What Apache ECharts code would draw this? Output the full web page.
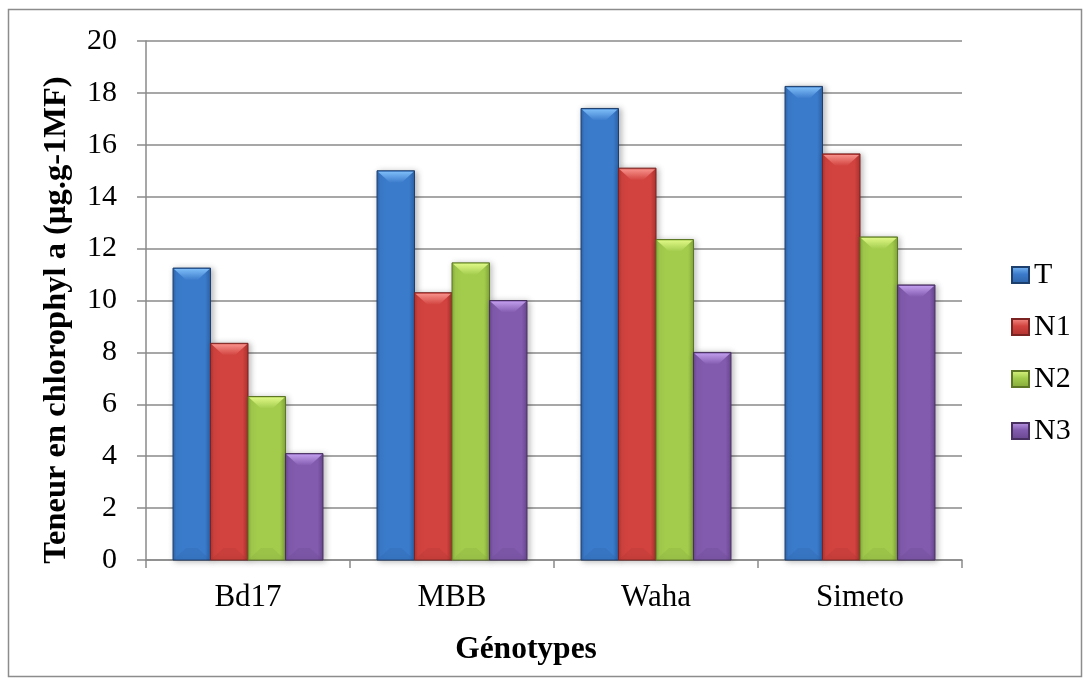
<!DOCTYPE html>
<html>
<head>
<meta charset="utf-8">
<script src="https://cdn.jsdelivr.net/npm/echarts@6/dist/echarts.min.js"></script>
<style>
  html, body { margin: 0; padding: 0; background: #ffffff; }
  #chart { width: 1091px; height: 686px; }
</style>
</head>
<body>
<div id="chart"></div>
<script>
// Chlorophyll a content per genotype and treatment
const categories = ['Bd17', 'MBB', 'Waha', 'Simeto'];
const seriesNames = ['T', 'N1', 'N2', 'N3'];
const valuesT  = [11.25, 15.0, 17.4, 18.25];
const valuesN1 = [8.35, 10.3, 15.1, 15.65];
const valuesN2 = [6.3, 11.45, 12.35, 12.45];
const valuesN3 = [4.1, 10.0, 8.0, 10.6];
const yTicks = [0, 2, 4, 6, 8, 10, 12, 14, 16, 18, 20];

const seriesValues = [valuesT, valuesN1, valuesN2, valuesN3];

// bevelled bar colours: light (top facet), mid (body), dark (edge)
const palette = [
  { light: '#7dbcf7', mid: '#3b7bcb', shade: '#2c62a6', edge: '#1d3f6e' },
  { light: '#f7908a', mid: '#d2433f', shade: '#ad322f', edge: '#7a2321' },
  { light: '#def785', mid: '#a3cc4d', shade: '#84a83a', edge: '#5c7626' },
  { light: '#c09cec', mid: '#825bae', shade: '#68468e', edge: '#47305f' }
];

const FONT = "'Liberation Serif', 'Times New Roman', serif";
const GROUP_RATIO = 0.735;

function hGrad(p) {
  return new echarts.graphic.LinearGradient(0, 0, 1, 0, [
    { offset: 0, color: p.shade },
    { offset: 0.1, color: p.mid },
    { offset: 0.85, color: p.mid },
    { offset: 1, color: p.shade }
  ]);
}

function makeRender(si) {
  const p = palette[si];
  return function (params, api) {
    const c = api.value(0);
    const v = api.value(1);
    const base = api.coord([c, 0]);
    const top = api.coord([c, v]);
    const band = api.size([1, 0])[0];
    const bw = band * GROUP_RATIO / 4;
    const x = base[0] - 2 * bw + si * bw;
    const yTop = top[1];
    const yBot = base[1];
    const h = yBot - yTop;
    const d = Math.min(12, h / 2);
    const ins = Math.min(13, bw / 2.6);
    return {
      type: 'group',
      children: [
        {
          type: 'rect',
          shape: { x: x, y: yTop, width: bw, height: h },
          style: {
            fill: hGrad(p),
            stroke: p.edge,
            lineWidth: 1,
            shadowBlur: 6,
            shadowOffsetX: 2,
            shadowOffsetY: 1,
            shadowColor: 'rgba(0,0,0,0.28)'
          }
        },
        {
          type: 'polygon',
          shape: { points: [[x + 1, yTop + 1], [x + bw - 1, yTop + 1], [x + bw - ins, yTop + d], [x + ins, yTop + d]] },
          style: {
            fill: new echarts.graphic.LinearGradient(0, 0, 0, 1, [
              { offset: 0, color: p.light },
              { offset: 1, color: p.mid }
            ])
          }
        },
        {
          type: 'polygon',
          shape: { points: [[x + 1, yBot - 1], [x + bw - 1, yBot - 1], [x + bw - ins, yBot - d], [x + ins, yBot - d]] },
          style: { fill: p.shade, opacity: 0.25 }
        }
      ]
    };
  };
}

const chart = echarts.init(document.getElementById('chart'), null, { renderer: 'canvas' });

const series = seriesNames.map(function (name, si) {
  const p = palette[si];
  return {
    name: name,
    type: 'custom',
    renderItem: makeRender(si),
    encode: { x: 0, y: 1 },
    itemStyle: {
      color: new echarts.graphic.LinearGradient(0, 0, 0, 1, [
        { offset: 0, color: p.light },
        { offset: 0.45, color: p.mid },
        { offset: 1, color: p.shade }
      ]),
      borderColor: p.edge,
      borderWidth: 1
    },
    data: seriesValues[si].map(function (v, i) { return [i, v]; })
  };
});

chart.setOption({
  backgroundColor: '#ffffff',
  animation: false,
  textStyle: { fontFamily: FONT },
  grid: { left: 146, right: 129, top: 41, bottom: 126, containLabel: false },
  legend: {
    orient: 'vertical',
    left: 1011,
    top: 260,
    padding: 0,
    itemWidth: 17,
    itemHeight: 16,
    itemGap: 22,
    icon: 'rect',
    data: seriesNames,
    textStyle: { fontFamily: FONT, fontSize: 30, lineHeight: 30, color: '#000000' }
  },
  xAxis: {
    type: 'category',
    data: categories,
    boundaryGap: true,
    axisLine: { show: true, lineStyle: { color: '#8a8a8a', width: 1.5 } },
    axisTick: { show: true, length: 8, interval: 0, lineStyle: { color: '#8a8a8a', width: 1.5 } },
    axisLabel: { fontFamily: FONT, fontSize: 31, color: '#000000', margin: 38, verticalAlign: 'middle' },
    splitLine: { show: false }
  },
  yAxis: {
    type: 'value',
    min: 0,
    max: 20,
    interval: 2,
    axisLine: { show: true, lineStyle: { color: '#8a8a8a', width: 1.5 } },
    axisTick: { show: true, length: 9, inside: false, lineStyle: { color: '#8a8a8a', width: 1.5 } },
    axisLabel: {
      fontFamily: FONT, fontSize: 30, color: '#000000', margin: 29,
      formatter: function (v) { return yTicks.indexOf(v) >= 0 ? String(v) : ''; }
    },
    splitLine: { show: true, lineStyle: { color: '#8a8a8a', width: 1.5 } }
  },
  graphic: [
    {
      type: 'rect',
      shape: { x: 8.5, y: 9.5, width: 1073, height: 667 },
      style: { fill: null, stroke: '#8c8c8c', lineWidth: 1.5 },
      silent: true,
      z: -10
    },
    {
      type: 'text',
      x: 57,
      y: 320,
      rotation: Math.PI / 2,
      style: {
        text: 'Teneur en chlorophyl a (µg.g-1MF)',
        fontFamily: FONT,
        fontSize: 32.5,
        fontWeight: 'bold',
        fill: '#000000',
        textAlign: 'center',
        textVerticalAlign: 'middle'
      }
    },
    {
      type: 'text',
      x: 526,
      y: 650,
      style: {
        text: 'Génotypes',
        fontFamily: FONT,
        fontSize: 31.5,
        fontWeight: 'bold',
        fill: '#000000',
        textAlign: 'center',
        textVerticalAlign: 'middle'
      }
    }
  ],
  series: series
});
</script>
</body>
</html>
